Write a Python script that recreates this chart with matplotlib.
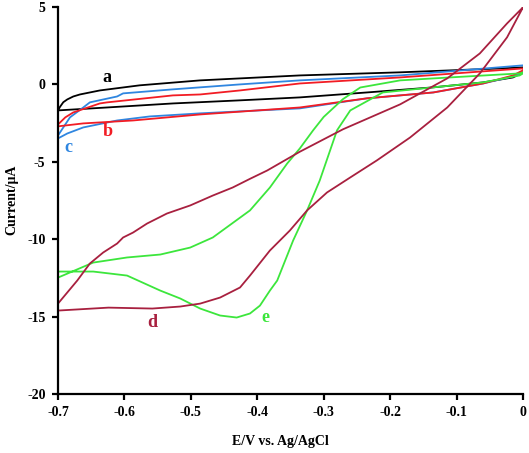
import matplotlib
matplotlib.use("Agg")
import matplotlib.pyplot as plt

# Curve a (black)
a_x = [0.0, -0.035, -0.185, -0.336, -0.486, -0.577, -0.637, -0.667, -0.677, -0.686, -0.692, -0.697, -0.700,
       -0.626, -0.527, -0.426, -0.336, -0.235, -0.135, -0.060, -0.015, 0.0]
a_y = [1.10, 1.03, 0.78, 0.58, 0.26, -0.06, -0.39, -0.65, -0.78, -0.97, -1.15, -1.45, -1.68,
       -1.49, -1.23, -1.03, -0.84, -0.52, -0.19, 0.13, 0.45, 0.78]

# Curve b (red)
b_x = [0.0, -0.185, -0.336, -0.426, -0.486, -0.527, -0.626, -0.637, -0.677, -0.689, -0.700,
       -0.700, -0.662, -0.587, -0.486, -0.336, -0.235, -0.135, -0.060, -0.015, 0.0]
b_y = [1.03, 0.45, 0.06, -0.39, -0.65, -0.71, -1.16, -1.23, -1.81, -2.13, -2.59,
       -2.71, -2.52, -2.33, -1.94, -1.49, -0.90, -0.52, 0.06, 0.58, 0.91]

# Curve c (blue)
c_x = [0.0, -0.185, -0.336, -0.426, -0.486, -0.527, -0.602, -0.611, -0.652, -0.662, -0.682, -0.700,
       -0.700, -0.686, -0.662, -0.611, -0.562, -0.486, -0.336, -0.235, -0.135, -0.060, -0.015, 0.0]
c_y = [1.23, 0.58, 0.26, 0.0, -0.19, -0.32, -0.58, -0.78, -1.16, -1.49, -2.13, -3.30,
       -3.49, -3.17, -2.78, -2.33, -2.07, -1.87, -1.55, -0.90, -0.52, 0.06, 0.52, 0.78]

# Curve d (crimson)
d_x = [0.0, -0.024, -0.065, -0.114, -0.166, -0.185, -0.271, -0.336, -0.385, -0.411, -0.437, -0.467,
       -0.501, -0.536, -0.566, -0.587, -0.602, -0.611, -0.632, -0.652, -0.671, -0.700,
       -0.700, -0.624, -0.558, -0.516, -0.486, -0.456, -0.426, -0.411, -0.381, -0.351, -0.325,
       -0.295, -0.260, -0.220, -0.170, -0.114, -0.065, -0.024, 0.0]
d_y = [4.98, 3.94, 2.00, 0.39, -0.84, -1.29, -2.90, -4.35, -5.56, -6.10, -6.66, -7.18,
       -7.82, -8.34, -8.99, -9.57, -9.89, -10.28, -10.86, -11.57, -12.67, -14.16,
       -14.61, -14.42, -14.48, -14.35, -14.16, -13.77, -13.12, -12.35, -10.73, -9.44, -8.14,
       -6.98, -6.01, -4.91, -3.43, -1.49, 0.71, 3.04, 4.98]

# Curve e (green)
e_x = [0.0, -0.005, -0.110, -0.185, -0.245, -0.271, -0.300, -0.316, -0.336, -0.355, -0.381, -0.411,
       -0.467, -0.501, -0.546, -0.596, -0.647, -0.700,
       -0.700, -0.647, -0.596, -0.546, -0.516, -0.486, -0.456, -0.431, -0.411, -0.396, -0.381,
       -0.370, -0.346, -0.325, -0.306, -0.280, -0.260, -0.211, -0.135, -0.060, -0.005, 0.0]
e_y = [0.78, 0.71, 0.45, 0.26, -0.20, -0.95, -2.10, -2.97, -4.14, -5.11, -6.66, -8.14,
       -9.89, -10.54, -10.99, -11.18, -11.51, -12.48,
       -12.09, -12.09, -12.35, -13.32, -13.83, -14.48, -14.93, -15.06, -14.80, -14.29, -13.32,
       -12.67, -10.08, -8.14, -6.21, -2.97, -1.68, -0.52, -0.19, 0.13, 0.58, 0.71]

x_ticks = [-0.7, -0.6, -0.5, -0.4, -0.3, -0.2, -0.1, 0.0]
x_tick_labels = ["-0.7", "-0.6", "-0.5", "-0.4", "-0.3", "-0.2", "-0.1", "0"]
y_ticks = [-20, -15, -10, -5, 0, 5]
y_tick_labels = ["-20", "-15", "-10", "-5", "0", "5"]

labels = ["a", "b", "c", "d", "e"]
label_pos = [(-0.626, 0.45), (-0.625, -3.05), (-0.685, -4.05), (-0.558, -15.35), (-0.388, -15.05)]
colors = ["#000000", "#F21C24", "#2F86E0", "#A8203F", "#3CE63C"]

plt.rcParams['font.family'] = ['Liberation Serif', 'DejaVu Serif']

fig = plt.figure(figsize=(5.29, 4.53), dpi=100)
ax = fig.add_axes([58/529, 1-394/453, (523-58)/529, (394-7)/453])

lw = 1.3
ax.plot(a_x, a_y, color=colors[0], lw=lw)
ax.plot(c_x, c_y, color=colors[2], lw=lw)
ax.plot(b_x, b_y, color=colors[1], lw=lw)
ax.plot(e_x, e_y, color=colors[4], lw=lw)
ax.plot(d_x, d_y, color=colors[3], lw=lw)

for lab, (lx, ly), col in zip(labels, label_pos, colors):
    ax.text(lx, ly, lab, color=col, fontsize=13, fontweight='bold', ha='center', va='center')

ax.set_xlim(-0.7, 0.0)
ax.set_ylim(-20, 5)
ax.set_xticks(x_ticks)
ax.set_xticklabels(x_tick_labels)
ax.set_yticks(y_ticks)
ax.set_yticklabels(y_tick_labels)
for s in ['top', 'right']:
    ax.spines[s].set_visible(False)
for s in ['left', 'bottom']:
    ax.spines[s].set_linewidth(1.6)
ax.tick_params(axis='both', direction='out', length=4, width=1.6, labelsize=10, pad=5)
for t in ax.get_xticklabels() + ax.get_yticklabels():
    t.set_fontweight('bold')

ax.set_xlabel("E/V vs. Ag/AgCl", fontsize=10, fontweight='bold', va='center')
ax.xaxis.set_label_coords((280-58)/465, -(442-394)/387)
ax.set_ylabel("Current/\u03bcA", fontsize=10, fontweight='bold', va='center')
ax.yaxis.set_label_coords(-(58-12)/465, (394-200)/387)

fig.savefig("out.png", dpi=100)
